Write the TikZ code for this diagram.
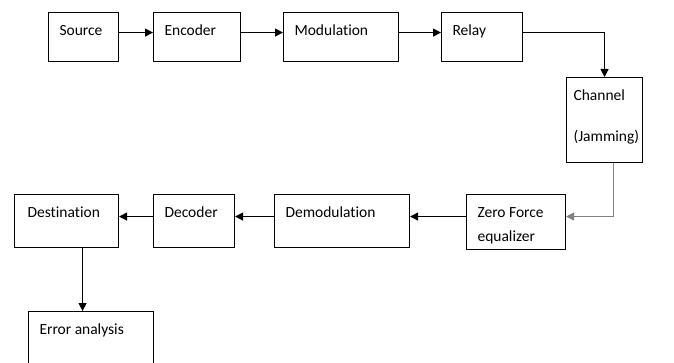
\documentclass[tikz,border=0pt]{standalone}
\usepackage{fontspec}
\setmainfont{Carlito}[Ligatures=NoCommon]
\usetikzlibrary{arrows.meta}

\tikzset{
  blk/.style={draw, line width=1.1pt, anchor=north west, inner xsep=11pt,
    inner ysep=0pt, align=flush left, text height=23pt,
    font=\fontsize{15.5}{20}\selectfont},
  arr/.style={line width=1.2pt, -{Triangle[length=8pt,width=8pt]}}
}

\begin{document}
\begin{tikzpicture}[x=1pt, y=-1pt]
        \useasboundingbox (0,0) rectangle (674,363);
        \clip (0,0) rectangle (674,363);

        \node[blk, text width=48pt, text depth=26pt] (source) at (48,12) {Source};
        \node[blk, text width=65pt, text depth=26pt] (encoder) at (153,12) {Encoder};
        \node[blk, text width=93pt, text depth=26pt] (modulation) at (283,12) {Modulation};
        \node[blk, text width=59pt, text depth=26pt] (relay) at (441,12) {Relay};
        \node[blk, text width=62pt, text depth=62pt, inner xsep=7pt] (channel) at (566,77) {Channel\\[21pt](Jamming)};
        \node[blk, text width=77pt, text depth=32pt] (zf) at (466,194) {Zero Force\\[4pt]equalizer};
        \node[blk, text width=113pt, text depth=30pt] (demod) at (274,194) {Demodulation};
        \node[blk, text width=59pt, text depth=30pt] (decoder) at (153,194) {Decoder};
        \node[blk, text width=78pt, text depth=30pt, inner xsep=13pt] (dest) at (14,194) {Destination};
        \node[blk, text width=103pt, text depth=40pt] (error) at (28,311) {Error analysis};

        \draw[arr] ([yshift=4.5pt]source.east) -- ([yshift=4.5pt]encoder.west);
        \draw[arr] ([yshift=4.5pt]encoder.east) -- ([yshift=4.5pt]modulation.west);
        \draw[arr] ([yshift=4.5pt]modulation.east) -- ([yshift=4.5pt]relay.west);
        \draw[arr] ([yshift=4.5pt]relay.east) -| (channel.north);
        \draw[arr, draw=gray, line width=1pt] ([xshift=9pt]channel.south) |- ([yshift=5.5pt]zf.east);
        \draw[arr] ([yshift=5.5pt]zf.west) -- ([yshift=5.5pt]zf.west -| demod.east);
        \draw[arr] ([yshift=4.5pt]demod.west) -- ([yshift=4.5pt]decoder.east);
        \draw[arr] ([yshift=4.5pt]decoder.west) -- ([yshift=4.5pt]dest.east);
        \draw[arr] ([xshift=16pt]dest.south) -- ([xshift=16pt]dest.south |- error.north);
    \end{tikzpicture}
\end{document}
